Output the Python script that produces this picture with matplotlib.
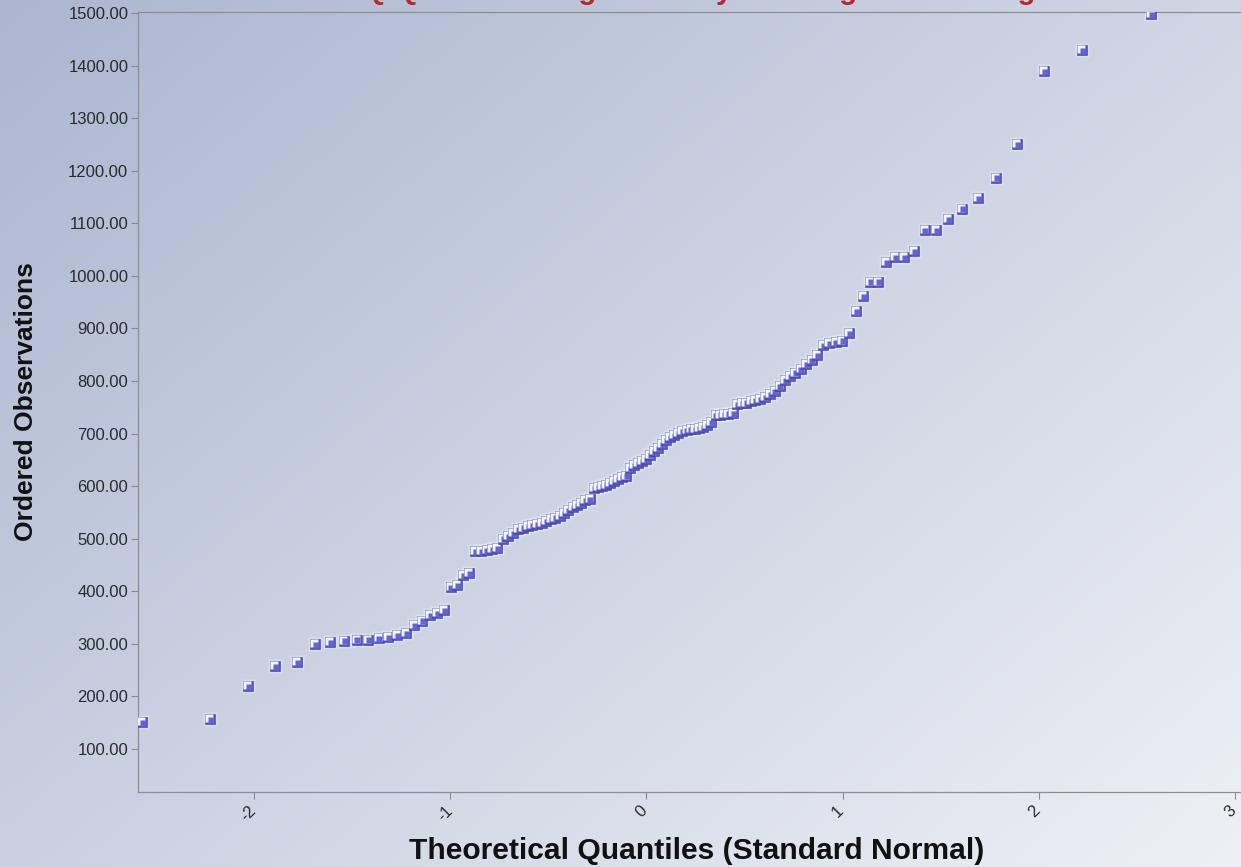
import matplotlib
matplotlib.use("Agg")
import numpy as np
import matplotlib.pyplot as plt
from matplotlib.transforms import ScaledTranslation
from statistics import NormalDist

# Ordered sample values (one per plotted point, smallest to largest)
observations = [
    151, 157, 220, 257, 265, 300, 303, 306, 308, 308,
    311, 313, 317, 321, 336, 344, 355, 359, 364, 408,
    412, 431, 435, 476, 477, 478, 480, 482, 500, 505,
    511, 518, 521, 524, 526, 528, 530, 533, 537, 540,
    543, 548, 555, 560, 564, 568, 574, 576, 596, 598,
    600, 603, 606, 610, 614, 617, 620, 635, 640, 644,
    647, 652, 660, 666, 672, 680, 688, 693, 697, 701,
    704, 707, 708, 709, 711, 713, 716, 722, 735, 736,
    737, 738, 739, 756, 758, 759, 761, 763, 766, 770,
    775, 780, 790, 801, 810, 816, 822, 832, 840, 849,
    868, 872, 874, 877, 891, 933, 962, 989, 989, 1026,
    1036, 1036, 1047, 1087, 1087, 1108, 1128, 1148, 1187, 1250,
    1390, 1430, 1498,
]

x_ticks = [-2, -1, 0, 1, 2, 3]
x_tick_labels = ["-2", "-1", "0", "1", "2", "3"]
y_ticks = [100, 200, 300, 400, 500, 600, 700, 800, 900, 1000, 1100, 1200, 1300, 1400, 1500]
y_tick_labels = [f"{v:.2f}" for v in y_ticks]

title_text = "Normal Q-Q Plot: Average Monthly Housing Cost in Large Cities"
x_label = "Theoretical Quantiles (Standard Normal)"
y_label = "Ordered Observations"

# Theoretical normal quantiles (Blom plotting positions)
n = len(observations)
nd = NormalDist()
theoretical = [nd.inv_cdf((i - 0.375) / (n + 0.25)) for i in range(1, n + 1)]

plt.rcParams["font.family"] = ["Liberation Sans", "DejaVu Sans"]

W, H = 1241, 867
fig = plt.figure(figsize=(W / 100, H / 100), dpi=100)

# Diagonal background gradient
bg = fig.add_axes([0, 0, 1, 1], zorder=0)
bg.axis("off")
gy, gx = np.mgrid[0:1:300j, 0:1:400j]
t = np.clip(0.55 * gx + 0.45 * gy, 0, 1)[..., None]
c0 = np.array([0xac, 0xb6, 0xd1]) / 255.0
c1 = np.array([0xee, 0xf0, 0xf5]) / 255.0
bg.imshow(c0 * (1 - t) + c1 * t, aspect="auto", extent=[0, 1, 0, 1],
          interpolation="bicubic")
bg.set_xlim(0, 1)
bg.set_ylim(0, 1)

left_px, right_px, top_px, bottom_px = 138, 1241, 12, 792
ax = fig.add_axes([left_px / W, (H - bottom_px) / H,
                   (right_px - left_px) / W, (bottom_px - top_px) / H], zorder=1)
ax.patch.set_alpha(0)
ax.set_xlim(-2.59, 3.03)
ax.set_ylim(18, 1502)


def shift(dx, dy):
    return ax.transData + ScaledTranslation(dx / 100, dy / 100, fig.dpi_scale_trans)


# soft halo under the markers
ax.plot(theoretical, observations, ls="none", marker="s", ms=10.5,
        mfc="white", mec="none", alpha=0.25, zorder=2)

# bevelled square markers, each drawn in order so later points sit on top
for k, (qx, oy) in enumerate(zip(theoretical, observations)):
    z = 3 + k * 0.001
    ax.plot(qx, oy, ls="none", marker="s", ms=7.4, mfc="#5050b8",
            mec="#44449e", mew=0.4, zorder=z)
    ax.plot(qx, oy, ls="none", marker="s", ms=5.2, mfc="#f4f4ff",
            mec="none", transform=shift(-1.0, 1.0), zorder=z + 0.0002)
    ax.plot(qx, oy, ls="none", marker="s", ms=4.8, mfc="#6464d2",
            mec="none", transform=shift(0.8, -0.8), zorder=z + 0.0004)

ax.set_xticks(x_ticks)
ax.set_xticklabels(x_tick_labels, rotation=45, ha="center", va="top")
ax.set_yticks(y_ticks)
ax.set_yticklabels(y_tick_labels)
ax.tick_params(axis="both", direction="out", length=5, width=0.8,
               color="#8a8a8a", labelsize=12, labelcolor="#2a2a2a")
ax.tick_params(axis="y", pad=2)
ax.tick_params(axis="x", pad=3)
# nudge the slanted quantile labels a little to the left of their ticks
for lbl in ax.get_xticklabels():
    lbl.set_transform(lbl.get_transform()
                      + ScaledTranslation(-5 / 100, 0, fig.dpi_scale_trans))

for side in ("left", "bottom", "top"):
    ax.spines[side].set_color("#8e8e8e")
    ax.spines[side].set_linewidth(0.9)
ax.spines["right"].set_visible(False)

ax.set_xlabel(x_label, fontsize=21.6, fontweight="bold", color="#111111")
ax.xaxis.label.set_va("center")
ax.xaxis.set_label_coords((697 - left_px) / (right_px - left_px),
                          (bottom_px - 851) / (bottom_px - top_px))
ax.set_ylabel(y_label, fontsize=19, fontweight="bold", color="#111111")
ax.yaxis.label.set_va("center")
ax.yaxis.set_label_coords((26 - left_px) / (right_px - left_px), 0.5)

# title sits above the top edge of the canvas, so only its lowest strip shows
fig.text(697 / W, 1 + 1 / H, title_text, color="#b42a2e", fontsize=21,
         fontweight="bold", ha="center", va="baseline")

fig.savefig("out.png", dpi=100)
